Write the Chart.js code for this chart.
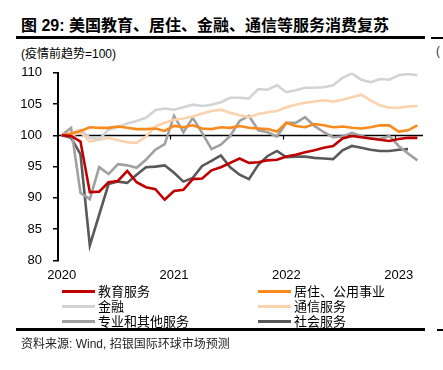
<!DOCTYPE html>
<html>
<head>
<meta charset="utf-8">
<script src="https://cdn.jsdelivr.net/npm/chart.js@4.4.1/dist/chart.umd.min.js"></script>
<style>
  html, body { margin: 0; padding: 0; background: #fff; }
  #wrap { position: relative; width: 443px; height: 370px; overflow: hidden; font-family: "Liberation Sans", "Noto Sans CJK SC", sans-serif; color: #000; }
  #title { position: absolute; left: 21px; top: 12px; font-size: 16px; font-weight: bold; white-space: nowrap; }
  .rule { position: absolute; height: 2px; background: #000; }
  #unit { position: absolute; left: 21px; top: 44px; font-size: 12px; white-space: nowrap; }
  #chartBox { position: absolute; left: 0; top: 54px; width: 443px; height: 236px; }
  .lg { position: absolute; height: 15px; font-size: 13px; white-space: nowrap; line-height: 15px; }
  .lg i { position: absolute; left: 0; top: 6px; width: 33px; height: 3px; }
  .lg span { position: absolute; left: 36px; top: 0; }
  #source { position: absolute; left: 21px; top: 334px; font-size: 12px; color: #222; white-space: nowrap; }
  #edge { position: absolute; left: 436px; top: 44px; font-size: 12px; color: #333; }
</style>
</head>
<body>
<div id="wrap">
  <div id="title">图 29: 美国教育、居住、金融、通信等服务消费复苏</div>
  <div class="rule" style="left:16px;width:409px;top:36px;height:2.5px"></div>
  <div class="rule" style="left:431px;width:12px;top:37px"></div>
  <div id="unit">(疫情前趋势=100)</div>
  <div id="edge">(</div>
  <div id="chartBox"><canvas id="c"></canvas></div>
  <div id="legend"></div>
  <div class="rule" style="left:16px;width:409px;top:328px;height:2.5px"></div>
  <div class="rule" style="left:437px;width:6px;top:329px"></div>
  <div id="source">资料来源: Wind, 招银国际环球市场预测</div>
</div>
<script>
// monthly, Jan 2020 .. Mar 2023
const yearLabels = ['2020', '2021', '2022', '2023'];
const yearPos = [0, 12, 24, 36];
const yearBounds = [11.6, 23.6, 35.6];
const baseline = 100;

const education = [100, 99.9, 99.0, 90.9, 91.0, 92.5, 92.7, 94.3, 92.5, 91.7, 91.4, 89.7, 91.1,
  91.3, 93.0, 93.1, 94.4, 94.9, 95.6, 96.3, 95.6, 95.7, 96.0, 96.1, 96.6, 96.9, 97.3,
  97.6, 98.0, 98.3, 99.5, 99.9, 99.7, 99.5, 99.3, 99.1, 99.4, 99.6, 99.6];
const housing = [100, 100.3, 100.7, 101.3, 101.2, 101.2, 101.4, 101.2, 101.0, 101.0, 101.1, 100.7, 101.5,
  101.3, 101.6, 101.1, 101.0, 101.3, 101.2, 101.5, 101.2, 101.1, 101.0, 100.6, 102.0, 101.5, 101.3,
  101.8, 101.6, 101.3, 101.4, 101.2, 101.1, 101.3, 101.6, 101.6, 100.6, 100.8, 101.6];
const finance = [100, 100.3, 100.9, 99.6, 99.4, 100.9, 101.3, 101.9, 102.3, 102.8, 104.0, 104.3, 104.1,
  104.5, 104.9, 104.7, 104.9, 105.3, 106.0, 106.0, 105.9, 107.4, 107.3, 108.0, 106.9, 107.2, 107.6,
  107.6, 107.7, 108.0, 109.2, 109.9, 108.9, 108.5, 109.0, 108.9, 109.6, 109.8, 109.6];
const telecom = [100, 99.9, 100.5, 99.0, 99.3, 99.6, 99.2, 98.9, 98.8, 99.8, 101.4, 102.0, 102.5,
  102.7, 103.0, 103.5, 103.9, 104.1, 103.6, 103.2, 102.9, 103.4, 103.7, 103.9, 104.5, 104.9, 105.2,
  105.4, 105.6, 105.4, 105.7, 106.1, 106.5, 105.6, 104.8, 104.4, 104.4, 104.6, 104.7];
const professional = [100, 101.2, 90.8, 89.8, 94.9, 93.8, 95.4, 95.2, 94.8, 96.1, 97.7, 98.6, 103.1,
  100.5, 102.8, 100.4, 97.8, 98.5, 99.9, 102.3, 103.1, 100.8, 100.5, 99.8, 102.0, 102.0, 102.9,
  101.5, 100.5, 99.7, 99.8, 100.4, 99.9, 99.5, 99.4, 99.9, 98.3, 97.1, 96.0];
const social = [100, 99.6, 97.0, 82.4, 87.3, 92.2, 92.6, 92.4, 93.7, 94.9, 95.0, 95.2, 94.0,
  92.6, 93.2, 95.1, 95.9, 96.8, 94.9, 93.7, 93.0, 95.3, 96.7, 97.5, 96.5, 96.6, 96.6,
  96.4, 96.3, 96.2, 97.6, 98.3, 98.0, 97.7, 97.5, 97.5, 97.7, 97.8];

const series = [
  { label: '教育服务', data: education, color: '#C00000' },
  { label: '居住、公用事业', data: housing, color: '#F88A1E' },
  { label: '金融', data: finance, color: '#D3D3D3' },
  { label: '通信服务', data: telecom, color: '#FCD2AC' },
  { label: '专业和其他服务', data: professional, color: '#A0A0A0' },
  { label: '社会服务', data: social, color: '#595959' }
];

const tickFont = { family: '"Liberation Sans", Arial, sans-serif', size: 13 };

// horizontal axis line at the baseline value, with year-boundary ticks
const baselineAxis = {
  id: 'baselineAxis',
  beforeDatasetsDraw(chart) {
    const { ctx, chartArea, scales: { x, y } } = chart;
    const py = Math.round(y.getPixelForValue(baseline)) + 0.5;
    ctx.save();
    ctx.strokeStyle = '#000';
    ctx.lineWidth = 1.6;
    ctx.beginPath();
    ctx.moveTo(chartArea.left, py);
    ctx.lineTo(chartArea.right, py);
    ctx.stroke();
    ctx.lineWidth = 1.2;
    yearBounds.forEach(v => {
      const px = Math.round(x.getPixelForValue(v)) + 0.5;
      ctx.beginPath();
      ctx.moveTo(px, py);
      ctx.lineTo(px, py + 4);
      ctx.stroke();
    });
    ctx.restore();
  }
};

const chart = new Chart(document.getElementById('c'), {
  type: 'line',
  data: {
    datasets: series.map(s => ({
      label: s.label,
      data: s.data.map((v, i) => ({ x: i, y: v })),
      borderColor: s.color,
      backgroundColor: s.color,
      borderWidth: 2.6,
      pointRadius: 0,
      tension: 0,
      fill: false
    }))
  },
  options: {
    responsive: true,
    maintainAspectRatio: false,
    animation: false,
    layout: { padding: { top: 11, right: 20, left: 0, bottom: 0 } },
    plugins: { legend: { display: false }, tooltip: { enabled: false } },
    scales: {
      x: {
        type: 'linear',
        position: 'bottom',
        min: -0.4,
        max: 38.6,
        afterBuildTicks: (s) => { s.ticks = yearPos.map(v => ({ value: v })); },
        ticks: {
          autoSkip: false,
          maxRotation: 0,
          padding: 7,
          color: '#000',
          font: tickFont,
          callback: (v) => yearLabels[yearPos.indexOf(v)]
        },
        grid: { display: false, drawTicks: false },
        border: { display: false }
      },
      y: {
        min: 80,
        max: 110,
        afterFit: (s) => { s.width = 58; },
        ticks: { stepSize: 5, padding: 11, color: '#000', font: tickFont },
        grid: { drawOnChartArea: false, color: '#000', tickLength: 5, lineWidth: 1.5 },
        border: { color: '#000', width: 2 }
      }
    }
  },
  plugins: [baselineAxis]
});

// two-column legend under the chart
const legend = document.getElementById('legend');
chart.data.datasets.forEach((ds, i) => {
  const col = i % 2, row = Math.floor(i / 2);
  const el = document.createElement('div');
  el.className = 'lg';
  el.style.left = (col ? 258 : 62) + 'px';
  el.style.top = (284 + row * 15) + 'px';
  el.innerHTML = `<i style="background:${ds.borderColor}"></i><span>${ds.label}</span>`;
  legend.appendChild(el);
});
</script>
</body>
</html>
